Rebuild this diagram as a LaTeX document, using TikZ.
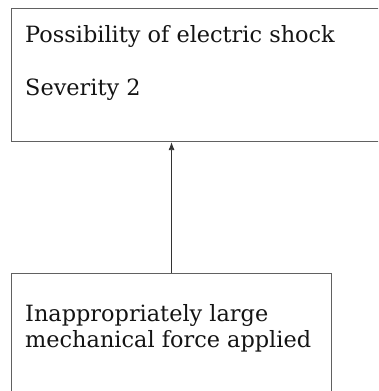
\documentclass[tikz,border=0pt]{standalone}
\usepackage{fontspec}
\setmainfont{DejaVu Serif}
\usetikzlibrary{arrows.meta}
\begin{document}
\begin{tikzpicture}[x=1pt,y=1pt,
  box/.style={draw=black!62, line width=1.1pt, rectangle, inner sep=0pt, anchor=north west},
  txt/.style={anchor=base west, inner sep=0pt, font=\fontsize{22.4}{27}\selectfont, text=black!92},
  link/.style={draw=black!80, line width=0.8pt, -{Latex[length=8pt,width=6pt]}}]
\useasboundingbox (0,0) rectangle (378,-391);
\clip (0,0) rectangle (378,-391);
% consequence box (runs past the right edge)
\node[box, minimum width=390pt, minimum height=133pt] (effect) at (11,-8) {};
\node[txt] (effectname) at (25,-42) {Possibility of electric shock};
\node[txt] (severity) at (25,-95) {Severity 2};
% cause box (runs past the bottom edge)
\node[box, minimum width=320pt, minimum height=130pt] (cause) at (11,-273) {};
\node[txt] (causeA) at (25,-321) {Inappropriately large};
\node[txt] (causeB) at (25,-347) {mechanical force applied};
% cause leads to consequence
\draw[link] (cause.north) -- (cause.north |- effect.south);
\end{tikzpicture}
\end{document}
